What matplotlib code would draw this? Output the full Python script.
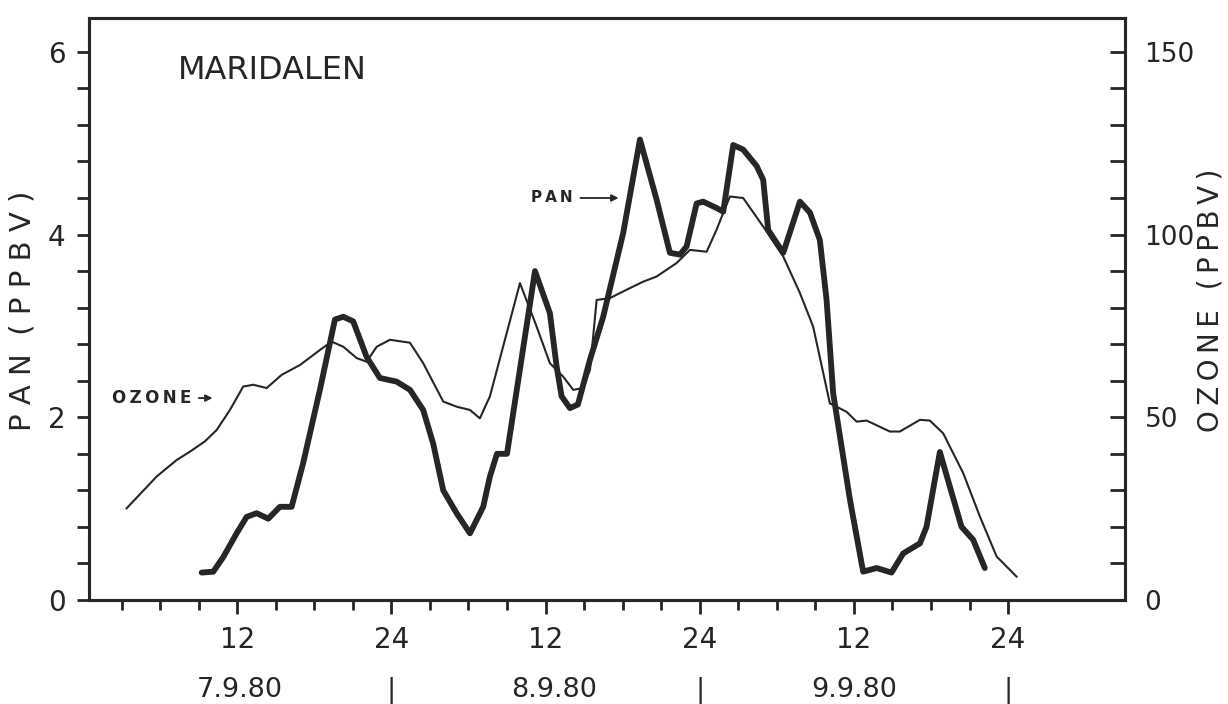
import matplotlib
matplotlib.use("Agg")
import matplotlib.pyplot as plt
from matplotlib.ticker import MultipleLocator, FixedLocator

# hours counted from 7.9.80 00:00
ozone_h = [3.40, 5.74, 7.29, 8.33, 9.49, 10.40, 11.44, 12.47, 13.25, 14.30, 15.46,
           16.89, 18.44, 19.35, 20.26, 21.30, 22.08, 22.86, 23.89, 25.45, 26.48,
           28.04, 29.08, 30.12, 30.89, 31.67, 34.01, 35.31, 36.34, 37.38, 38.16,
           38.93, 39.46, 39.98, 41.01, 42.31, 43.60, 44.64, 46.20, 47.24, 48.54,
           49.31, 49.83, 50.35, 51.38, 52.94, 54.50, 55.80, 56.83, 58.13, 59.43,
           60.21, 60.99, 62.80, 63.58, 65.14, 65.91, 66.95, 68.51, 69.81, 71.11,
           72.66]
ozone_ppb = [25.1, 33.8, 38.3, 40.6, 43.4, 46.5, 52.0, 58.4, 58.9, 58.0, 61.6,
             64.3, 68.4, 70.7, 69.3, 66.2, 65.2, 69.3, 71.2, 70.4, 64.8,
             54.3, 52.9, 52.0, 49.7, 55.7, 86.7, 74.8, 64.8, 61.1, 57.5,
             58.0, 63.0, 82.1, 82.6, 84.9, 87.1, 88.5, 92.2, 95.8, 95.3,
             101.3, 105.9, 110.4, 110.0, 102.2, 94.0, 84.0, 74.8, 53.8, 51.5,
             48.8, 49.1, 46.1, 46.1, 49.3, 49.1, 45.6, 34.7, 22.8, 11.9,
             6.4]

pan_h = [9.24, 10.14, 10.92, 11.96, 12.74, 13.52, 14.42, 15.33, 16.24, 17.14,
         18.44, 19.61, 20.26, 21.03, 22.08, 23.11, 24.41, 25.45, 26.48, 27.26,
         28.04, 29.08, 30.12, 31.15, 31.67, 32.22, 33.00, 35.18, 36.34, 36.86,
         37.25, 37.90, 38.52, 39.46, 40.49, 42.05, 43.35, 44.65, 45.68, 46.46,
         46.98, 47.76, 48.27, 49.32, 49.83, 50.61, 51.38, 52.43, 52.94, 53.33,
         54.50, 55.80, 56.58, 57.35, 57.87, 58.39, 59.69, 60.72, 61.77, 62.93,
         63.84, 65.14, 65.65, 66.69, 67.47, 68.38, 69.28, 70.19]
pan_ppb = [0.30, 0.31, 0.47, 0.73, 0.91, 0.95, 0.89, 1.02, 1.02, 1.50,
           2.30, 3.07, 3.10, 3.05, 2.66, 2.43, 2.39, 2.30, 2.08, 1.71,
           1.20, 0.95, 0.73, 1.02, 1.35, 1.60, 1.60, 3.60, 3.14, 2.56,
           2.23, 2.10, 2.14, 2.63, 3.10, 4.02, 5.04, 4.38, 3.80, 3.78,
           3.87, 4.34, 4.36, 4.29, 4.25, 4.98, 4.93, 4.75, 4.60, 4.05,
           3.80, 4.36, 4.24, 3.94, 3.29, 2.26, 1.10, 0.31, 0.35, 0.30,
           0.51, 0.62, 0.80, 1.62, 1.24, 0.80, 0.66, 0.35]

hour_ticks = [12, 24, 36, 48, 60, 72]
hour_labels = ["12", "24", "12", "24", "12", "24"]
dates = ["7.9.80", "8.9.80", "9.9.80"]
date_pos = [12.2, 36.7, 60.0]
day_breaks = [24, 48, 72]

ink = "#262626"
plt.rcParams["font.family"] = ["DejaVu Sans"]
plt.rcParams["text.color"] = ink
plt.rcParams["axes.edgecolor"] = ink
plt.rcParams["xtick.color"] = ink
plt.rcParams["ytick.color"] = ink

fig = plt.figure(figsize=(12.28, 7.04), dpi=100)
ax = fig.add_axes([89 / 1228, 1 - 600 / 704, 1036 / 1228, 582 / 704])
ax2 = ax.twinx()

ax.plot(pan_h, pan_ppb, color=ink, lw=4.2, solid_joinstyle="round",
        solid_capstyle="round", zorder=3)
ax2.plot(ozone_h, ozone_ppb, color=ink, lw=1.5, solid_joinstyle="round")

ax.set_xlim(0.47, 81.1)
ax.set_ylim(0, 6.37)
ax2.set_ylim(0, 6.37 * 25)

for a in (ax, ax2):
    for s in a.spines.values():
        s.set_linewidth(2.2)

# left axis
ax.yaxis.set_major_locator(FixedLocator([0, 2, 4, 6]))
ax.yaxis.set_minor_locator(MultipleLocator(0.4))
ax.tick_params(axis="y", which="both", direction="out", length=9, width=2,
               labelsize=20, pad=8)

# right axis
ax2.yaxis.set_major_locator(FixedLocator([0, 50, 100, 150]))
ax2.yaxis.set_minor_locator(MultipleLocator(10))
ax2.tick_params(axis="y", which="both", direction="in", length=11, width=2,
                labelsize=19, pad=14)

fig.text(23 / 1228, 1 - 311 / 704, " ".join("PAN (PPBV)").replace("   ", "  "),
         rotation=90, ha="center", va="center", fontsize=21)
fig.text(1211 / 1228, 1 - 300 / 704, "\u2009".join("OZONE (PPBV)"),
         rotation=90, ha="center", va="center", fontsize=20)

# bottom axis
ax.xaxis.set_major_locator(FixedLocator(hour_ticks))
ax.xaxis.set_minor_locator(FixedLocator(range(3, 73, 3)))
ax.set_xticklabels(hour_labels)
ax.tick_params(axis="x", which="major", direction="out", length=10, width=2,
               labelsize=20, pad=9)
ax.tick_params(axis="x", which="minor", direction="out", length=7, width=2)

for d, p in zip(dates, date_pos):
    ax.text(p, -0.155, d, transform=ax.get_xaxis_transform(), ha="center",
            va="center", fontsize=19.5)
for b in day_breaks:
    ax.text(b, -0.155, "|", transform=ax.get_xaxis_transform(), ha="center",
            va="center", fontsize=19.5)

ax.text(0.086, 0.91, "MARIDALEN", transform=ax.transAxes, fontsize=23,
        ha="left", va="center")

ax.annotate("", xy=(10.3, 2.21), xytext=(8.8, 2.21),
            arrowprops=dict(arrowstyle="-|>", color=ink, lw=1.3, mutation_scale=10))
ax.text(8.4, 2.21, "\u2009".join("OZONE"), fontsize=12, ha="right", va="center",
        fontweight="bold")
ax.annotate("", xy=(41.9, 4.40), xytext=(38.5, 4.40),
            arrowprops=dict(arrowstyle="-|>", color=ink, lw=1.3, mutation_scale=10))
ax.text(38.1, 4.40, "\u2009".join("PAN"), fontsize=11, ha="right", va="center",
        fontweight="bold")

fig.savefig("out.png", dpi=100, facecolor="white")
